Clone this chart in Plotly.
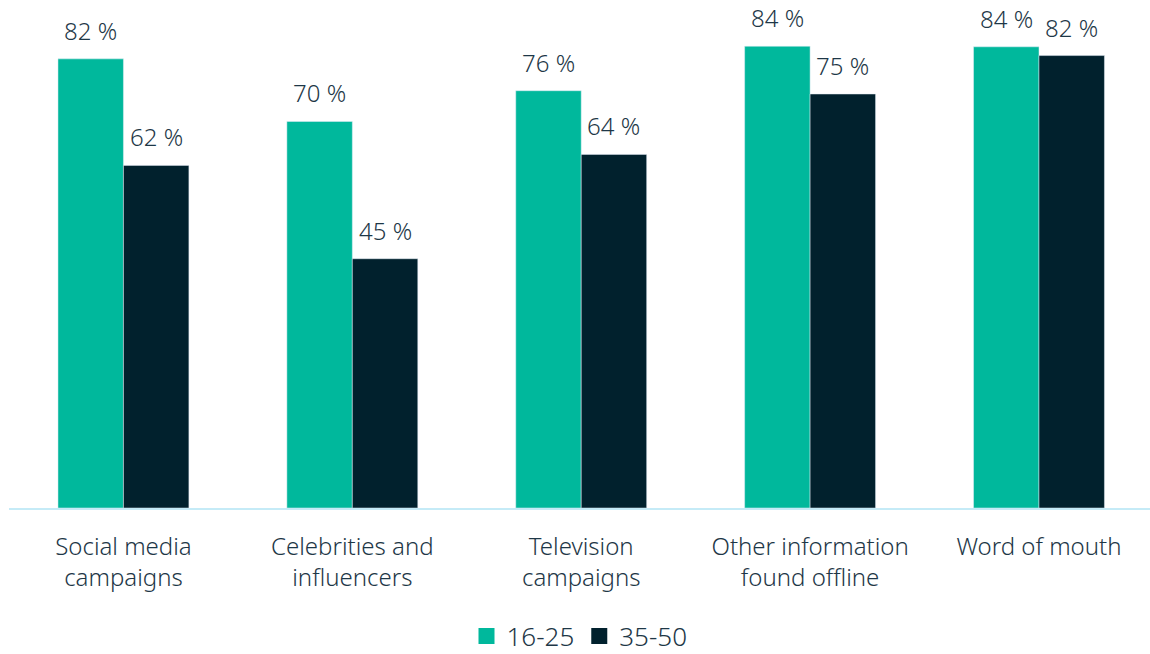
import plotly.graph_objects as go

categories = ["Social media<br>campaigns", "Celebrities and<br>influencers", "Television<br>campaigns",
              "Other information<br>found offline", "Word of mouth"]
young = [81.8, 70.4, 76.0, 84.1, 84.0]
older = [62.4, 45.4, 64.4, 75.4, 82.4]
young_labels = ["82 %", "70 %", "76 %", "84 %", "84 %"]
older_labels = ["62 %", "45 %", "64 %", "75 %", "82 %"]
series_names = ["16-25", "35-50"]

TEAL = "#00b89c"
DARK = "#01212d"
TEXT = "#1e3747"
FONT = "Noto Sans"

fig = go.Figure()
fig.add_trace(go.Bar(x=list(range(5)), y=young, marker_color=TEAL, showlegend=False, offsetgroup="a"))
fig.add_trace(go.Bar(x=list(range(5)), y=older, marker_color=DARK, showlegend=False, offsetgroup="b"))

# legend swatches
for name, col in zip(series_names, [TEAL, DARK]):
    fig.add_trace(go.Scatter(x=[None], y=[None], mode="markers", name=name,
                             marker=dict(symbol="square", size=18, color=col)))

# value labels above the bars
offset = 0.143
annotations = []
for i in range(5):
    for val, lab, dx in [(young[i], young_labels[i], -offset), (older[i], older_labels[i], offset)]:
        annotations.append(dict(x=i + dx, y=val, text=lab, showarrow=False, yanchor="bottom",
                                yshift=10, font=dict(size=24, color=TEXT, family=FONT, weight=300)))

fig.update_layout(
    width=1150, height=654,
    margin=dict(l=9, r=0, t=10, b=146, autoexpand=False),
    plot_bgcolor="white", paper_bgcolor="white",
    barmode="group", bargap=0.428, bargroupgap=0,
    font=dict(family=FONT, color=TEXT, size=24, weight=300),
    annotations=annotations,
    hovermode=False,
    legend=dict(orientation="h", x=0.5, xanchor="center", y=-0.257, yanchor="middle",
                font=dict(size=26), itemwidth=30, tracegroupgap=0),
    xaxis=dict(tickmode="array", tickvals=list(range(5)), ticktext=categories,
               range=[-0.5, 4.485], showline=True, linecolor="#c5ebf7", linewidth=2,
               showgrid=False, zeroline=False, ticks="", ticklabelstandoff=16, automargin=False),
    yaxis=dict(range=[0, 90.7], visible=False, showgrid=False, zeroline=False),
)

# drop the default 8px body margin so the figure fills the window
fig.write_html("out.html", config={"displayModeBar": False},
               post_script="document.body.style.margin='0';")
